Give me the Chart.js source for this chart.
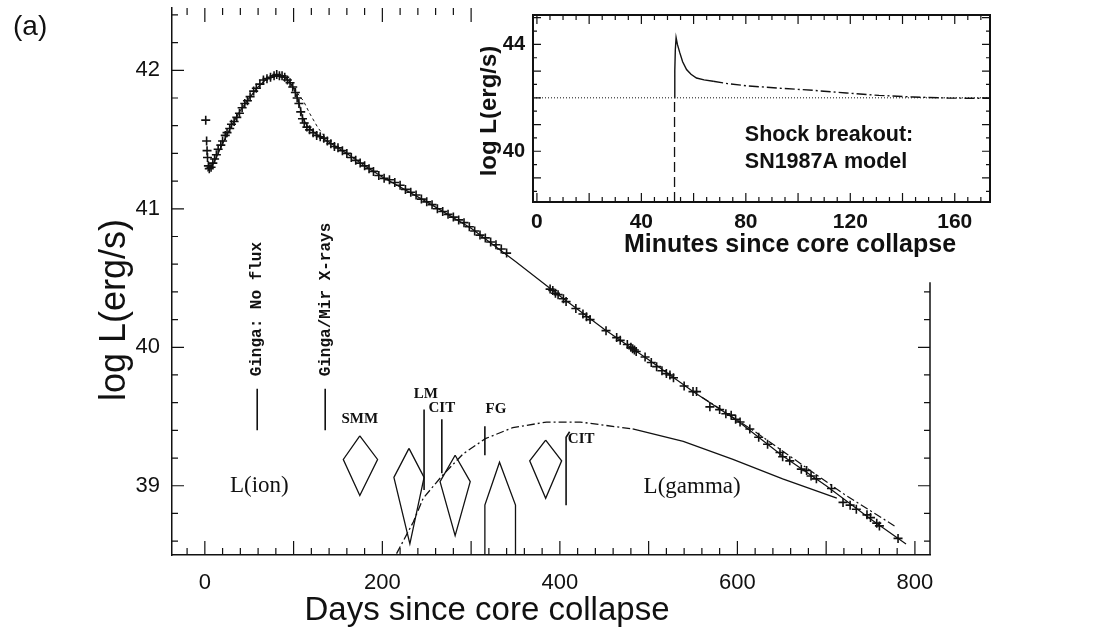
<!DOCTYPE html>
<html>
<head>
<meta charset="utf-8">
<script src="https://cdn.jsdelivr.net/npm/chart.js@4.4.1/dist/chart.umd.min.js"></script>
<style>
  html, body { margin: 0; padding: 0; background: #fff; }
  #wrap { position: relative; width: 1114px; height: 637px; }
  #main { position: absolute; left: 0; top: 0; }
  #inset { position: absolute; left: 480px; top: 0; }
</style>
</head>
<body>
<div id="wrap">
  <canvas id="main" width="1114" height="637"></canvas>
  <canvas id="inset" width="634" height="262"></canvas>
</div>
<script>
// ---------- main panel data (days since collapse, log L) ----------
const dayTicks = [0, 200, 400, 600, 800];
const logTicks = [39, 40, 41, 42];

const observed = [
  [1, 41.64], [2, 41.49], [2.5, 41.42], [3, 41.37], [4, 41.31], [5, 41.29], [7, 41.30], [9, 41.33],
  [11, 41.36], [13, 41.39], [15, 41.43], [18, 41.46], [20, 41.49], [23, 41.53], [25, 41.55], [28, 41.58],
  [30, 41.61], [33, 41.63], [36, 41.66], [39, 41.69], [42, 41.73], [45, 41.76], [48, 41.78], [51, 41.81],
  [55, 41.85], [58, 41.87], [62, 41.90], [66, 41.93], [70, 41.94], [74, 41.95], [78, 41.96], [81, 41.97],
  [84, 41.96], [87, 41.96], [90, 41.95], [93, 41.93], [96, 41.91], [99, 41.88], [102, 41.84], [104, 41.80],
  [106, 41.76], [108, 41.70], [110, 41.65], [112, 41.62], [115, 41.59], [118, 41.57], [122, 41.55], [126, 41.53],
  [130, 41.52], [134, 41.51], [138, 41.49], [142, 41.47], [146, 41.45], [150, 41.44], [155, 41.42], [160, 41.40],
  [165, 41.37], [170, 41.35], [175, 41.33], [180, 41.31], [185, 41.29], [190, 41.27], [196, 41.24], [202, 41.22],
  [208, 41.21], [214, 41.19], [220, 41.17], [226, 41.14], [232, 41.12], [238, 41.10], [244, 41.07], [250, 41.05],
  [256, 41.03], [262, 41.00], [268, 40.98], [274, 40.96], [280, 40.94], [286, 40.92], [292, 40.90], [298, 40.87],
  [304, 40.84], [310, 40.81], [316, 40.79], [322, 40.76], [328, 40.74], [334, 40.71], [340, 40.68],
  [389, 40.42], [392, 40.41], [395, 40.39], [398, 40.38], [404, 40.35], [407, 40.33], [418, 40.28], [426, 40.24],
  [430, 40.22], [434, 40.20], [452, 40.12], [464, 40.07], [468, 40.05], [476, 40.02], [480, 40.00], [482, 39.99],
  [484, 39.98], [486, 39.97], [496, 39.93], [503, 39.89], [509, 39.86], [515, 39.83], [520, 39.81], [524, 39.80],
  [528, 39.78], [540, 39.72], [550, 39.68], [554, 39.68], [569, 39.57], [580, 39.55], [587, 39.52], [593, 39.51],
  [598, 39.48], [603, 39.46], [614, 39.41], [624, 39.35], [634, 39.30], [648, 39.24], [651, 39.21], [659, 39.18],
  [672, 39.12], [678, 39.11], [683, 39.07], [689, 39.05], [706, 38.98], [719, 38.88], [727, 38.86], [734, 38.83],
  [746, 38.79], [750, 38.77], [757, 38.73], [760, 38.71], [781, 38.62]
];

const modelSolid = [
  [3, 41.27], [10, 41.33], [20, 41.47], [30, 41.60], [40, 41.71], [50, 41.80], [60, 41.88], [70, 41.94],
  [80, 41.96], [88, 41.96], [95, 41.92], [100, 41.87], [105, 41.79], [110, 41.66], [115, 41.60], [125, 41.54],
  [140, 41.48], [160, 41.40], [180, 41.31], [200, 41.23], [250, 41.05], [300, 40.86], [350, 40.62], [400, 40.37],
  [450, 40.13], [500, 39.91], [550, 39.68], [600, 39.47], [650, 39.22], [700, 39.00], [750, 38.76], [790, 38.58]
];

const modelDashedPeak = [[92, 41.94], [100, 41.88], [106, 41.82], [111, 41.78], [118, 41.69], [127, 41.59], [135, 41.52]];
const modelDashedLate = [[560, 39.64], [620, 39.39], [680, 39.12], [720, 38.94], [777, 38.71]];

const gammaLum = [
  [216, 38.51], [235, 38.74], [246, 38.91], [267, 39.07], [291, 39.23], [316, 39.34], [347, 39.42], [385, 39.46],
  [423, 39.46], [482, 39.41], [539, 39.32], [595, 39.19], [651, 39.05], [712, 38.91]
];

// instrument limits drawn as diamonds / boxes / bars
const smmDiamond = [[174.6, 39.36], [194.6, 39.19], [174.6, 38.93], [156, 39.19], [174.6, 39.36]];
const kiteA = [[230, 39.27], [247, 39.06], [231, 38.58], [213, 39.06], [230, 39.27]];
const kiteB = [[282, 39.22], [299, 39.03], [282, 38.64], [265, 39.03], [282, 39.22]];
const fgBox = [[315.5, 38.5], [315.5, 38.86], [332, 39.17], [350, 38.86], [350, 38.5]];
const diamondC = [[384, 39.33], [402, 39.18], [384, 38.91], [366, 39.18], [384, 39.33]];
const gingaBar1 = [[59, 39.70], [59, 39.40]];
const gingaBar2 = [[135.6, 39.70], [135.6, 39.40]];
const lmBar = [[247, 39.55], [247, 38.97]];
const citBar1 = [[267, 39.48], [267, 39.09]];
const fgBar = [[315.5, 39.43], [315.5, 39.22]];
const citBar2 = [[411, 39.39], [407, 39.35], [407, 38.86]];

const mainLabels = [
  { text: 'Ginga: No flux', x: 59, y: 39.79, rot: true, font: 'bold 16px "Liberation Mono", monospace' },
  { text: 'Ginga/Mir X-rays', x: 136, y: 39.79, rot: true, font: 'bold 16px "Liberation Mono", monospace' },
  { text: 'SMM', x: 174.6, y: 39.48, font: 'bold 15px "Liberation Serif", serif' },
  { text: 'LM', x: 249, y: 39.66, font: 'bold 15px "Liberation Serif", serif' },
  { text: 'CIT', x: 267, y: 39.56, font: 'bold 15px "Liberation Serif", serif' },
  { text: 'FG', x: 328, y: 39.55, font: 'bold 15px "Liberation Serif", serif' },
  { text: 'CIT', x: 424, y: 39.34, font: 'bold 15px "Liberation Serif", serif' },
  { text: 'L(ion)', x: 61.4, y: 39.0, font: '23px "Liberation Serif", serif' },
  { text: 'L(gamma)', x: 549, y: 38.99, font: '23px "Liberation Serif", serif' }
];
const rightAxisTop = 40.47;   // right frame is hidden behind the inset above this level

// ---------- inset data (minutes since collapse, log L) ----------
const minuteTicks = [0, 40, 80, 120, 160];
const insetLogTicks = [40, 44];
const breakoutCurve = [
  [52.7, 42.0], [52.8, 43.0], [53.0, 43.8], [53.3, 44.25], [53.8, 44.0], [54.7, 43.69], [55.8, 43.35],
  [57.3, 43.06], [59, 42.88], [61.1, 42.74], [64, 42.67], [67.5, 42.62], [73, 42.53], [80.3, 42.45],
  [93, 42.36], [105.7, 42.28], [118.5, 42.18], [131, 42.09], [144, 42.03], [158, 41.99], [173.4, 41.98]
];
const breakoutDrop = [[52.7, 38.1], [52.7, 42.0]];
const baseLevel = [[-1.5, 42.0], [173.5, 42.0]];

const pts = arr => arr.map(p => ({ x: p[0], y: p[1] }));
const lineSet = (arr, extra) => Object.assign({
  data: pts(arr), showLine: true, pointRadius: 0, borderColor: '#111', borderWidth: 1.3, fill: false, tension: 0
}, extra || {});
const noPadX = (s, h) => { s.height = h; s.paddingLeft = 0; s.paddingRight = 0; };
const noPadY = (s, w) => { s.width = w; s.paddingTop = 0; s.paddingBottom = 0; };

// inward tick marks on every side of a panel
function drawInwardTicks(ctx, chart, xList, yList, sides, rightFrom) {
  const a = chart.chartArea, xs = chart.scales.x, ys = chart.scales.y;
  const rightTop = rightFrom === undefined ? a.top : ys.getPixelForValue(rightFrom);
  ctx.save();
  ctx.strokeStyle = '#111';
  ctx.lineWidth = 1.2;
  ctx.beginPath();
  xList.forEach(t => {
    const px = xs.getPixelForValue(t.v);
    if (px < a.left || px > a.right) return;
    if (sides.bottom) { ctx.moveTo(px, a.bottom); ctx.lineTo(px, a.bottom - t.len); }
    if (sides.top) { ctx.moveTo(px, a.top); ctx.lineTo(px, a.top + t.len); }
  });
  yList.forEach(t => {
    const py = ys.getPixelForValue(t.v);
    if (py < a.top || py > a.bottom) return;
    if (sides.left) { ctx.moveTo(a.left, py); ctx.lineTo(a.left + t.len, py); }
    if (sides.right && py >= rightTop) { ctx.moveTo(a.right, py); ctx.lineTo(a.right - t.len, py); }
  });
  ctx.stroke();
  ctx.restore();
}

const mainXMarks = [];
for (let d = -20; d <= 800; d += 20) mainXMarks.push({ v: d, len: d % 100 === 0 ? 14 : 7 });
const mainYMarks = [];
for (let i = 193; i <= 212; i++) mainYMarks.push({ v: i / 5, len: i % 5 === 0 ? 12 : 6 });

const mainDecor = {
  id: 'mainDecor',
  afterDatasetsDraw(chart) {
    const ctx = chart.ctx, a = chart.chartArea, xs = chart.scales.x, ys = chart.scales.y;
    drawInwardTicks(ctx, chart, mainXMarks, mainYMarks, { bottom: true, top: true, left: true, right: true }, rightAxisTop);
    ctx.save();
    ctx.strokeStyle = '#111';
    ctx.lineWidth = 1.5;
    ctx.beginPath();
    ctx.moveTo(a.right, ys.getPixelForValue(rightAxisTop)); ctx.lineTo(a.right, a.bottom);
    ctx.stroke();
    ctx.fillStyle = '#111';
    mainLabels.forEach(l => {
      ctx.font = l.font;
      const px = xs.getPixelForValue(l.x), py = ys.getPixelForValue(l.y);
      if (l.rot) {
        ctx.save();
        ctx.translate(px, py);
        ctx.rotate(-Math.PI / 2);
        ctx.textAlign = 'left';
        ctx.textBaseline = 'middle';
        ctx.fillText(l.text, 0, 0);
        ctx.restore();
      } else {
        ctx.textAlign = 'center';
        ctx.textBaseline = 'middle';
        ctx.fillText(l.text, px, py);
      }
    });
    // axis titles and panel tag
    ctx.font = '33px "Liberation Sans", Arial, sans-serif';
    ctx.textAlign = 'center';
    ctx.textBaseline = 'middle';
    ctx.fillText('Days since core collapse', 487, 611);
    ctx.save();
    ctx.translate(115, 310);
    ctx.rotate(-Math.PI / 2);
    ctx.font = '36px "Liberation Sans", Arial, sans-serif';
    ctx.fillText('log L(erg/s)', 0, 0);
    ctx.restore();
    ctx.font = '28px "Liberation Sans", Arial, sans-serif';
    ctx.textAlign = 'left';
    ctx.fillText('(a)', 13, 27);
    ctx.restore();
  }
};

new Chart(document.getElementById('main'), {
  type: 'scatter',
  data: {
    datasets: [
      { data: pts(observed), pointStyle: 'cross', pointRadius: 4.5, borderColor: '#111', borderWidth: 1.6, showLine: false },
      lineSet(modelSolid, { borderWidth: 1.2 }),
      lineSet(modelDashedPeak, { borderWidth: 1, borderDash: [3, 3] }),
      lineSet(modelDashedLate, { borderWidth: 1.2, borderDash: [8, 3, 2, 3] }),
      lineSet(gammaLum, { borderWidth: 1.3, segment: { borderDash: c => c.p0.parsed.x < 430 ? [8, 3, 2, 3] : [] } }),
      lineSet(smmDiamond), lineSet(kiteA), lineSet(kiteB), lineSet(fgBox), lineSet(diamondC),
      lineSet(gingaBar1, { borderWidth: 1.6 }), lineSet(gingaBar2, { borderWidth: 1.6 }),
      lineSet(lmBar, { borderWidth: 1.6 }), lineSet(citBar1, { borderWidth: 1.6 }),
      lineSet(fgBar, { borderWidth: 1.6 }), lineSet(citBar2, { borderWidth: 1.6 })
    ]
  },
  options: {
    responsive: false,
    animation: false,
    layout: { padding: { left: 0, right: 184, top: 8, bottom: 0 } },
    plugins: { legend: { display: false }, tooltip: { enabled: false } },
    scales: {
      x: {
        type: 'linear', min: -37, max: 817,
        afterBuildTicks: s => { s.ticks = dayTicks.map(v => ({ value: v })); },
        afterFit: s => noPadX(s, 82),
        grid: { display: false, drawTicks: false },
        border: { display: true, color: '#111', width: 1.5 },
        ticks: { color: '#111', font: { family: '"Liberation Sans", Arial, sans-serif', size: 22 }, padding: 15, maxRotation: 0, autoSkip: false }
      },
      y: {
        type: 'linear', min: 38.5, max: 42.45,
        afterBuildTicks: s => { s.ticks = logTicks.map(v => ({ value: v })); },
        afterFit: s => noPadY(s, 172),
        grid: { display: false, drawTicks: false },
        border: { display: true, color: '#111', width: 1.5 },
        ticks: { color: '#111', font: { family: '"Liberation Sans", Arial, sans-serif', size: 22 }, padding: 12 }
      }
    }
  },
  plugins: [mainDecor]
});

// ---------- inset panel ----------
const insetXMarks = [];
for (let m = 0; m <= 170; m += 5) insetXMarks.push({ v: m, len: m % 20 === 0 ? 9 : 5 });
const insetYMarks = [];
for (let i = 77; i <= 90; i++) insetYMarks.push({ v: i / 2, len: i % 2 === 0 ? 8 : 4 });

const insetDecor = {
  id: 'insetDecor',
  beforeDraw(chart) {
    const ctx = chart.ctx, a = chart.chartArea;
    ctx.save();
    ctx.fillStyle = '#fff';
    ctx.fillRect(a.left - 50, 0, a.right - a.left + 55, a.bottom + 3);
    ctx.fillRect(a.left - 8, a.bottom, a.right - a.left + 13, chart.height - a.bottom);
    ctx.restore();
  },
  afterDatasetsDraw(chart) {
    const ctx = chart.ctx, a = chart.chartArea, xs = chart.scales.x, ys = chart.scales.y;
    drawInwardTicks(ctx, chart, insetXMarks, insetYMarks, { bottom: true, top: true, left: true, right: true });
    ctx.save();
    ctx.strokeStyle = '#111';
    ctx.lineWidth = 2;
    ctx.strokeRect(a.left, a.top, a.right - a.left, a.bottom - a.top);
    ctx.fillStyle = '#111';
    ctx.textAlign = 'left';
    ctx.textBaseline = 'middle';
    ctx.font = 'bold 21.5px "Liberation Sans", Arial, sans-serif';
    ctx.fillText('Shock breakout:', xs.getPixelForValue(79.6), ys.getPixelForValue(40.6));
    ctx.fillText('SN1987A model', xs.getPixelForValue(79.6), ys.getPixelForValue(39.58));
    ctx.textAlign = 'center';
    ctx.font = 'bold 25px "Liberation Sans", Arial, sans-serif';
    ctx.fillText('Minutes since core collapse', 310, 245);
    ctx.save();
    ctx.translate(9, 111);
    ctx.rotate(-Math.PI / 2);
    ctx.font = 'bold 24px "Liberation Sans", Arial, sans-serif';
    ctx.fillText('log L(erg/s)', 0, 0);
    ctx.restore();
    ctx.restore();
  }
};

new Chart(document.getElementById('inset'), {
  type: 'scatter',
  data: {
    datasets: [
      lineSet(baseLevel, { borderWidth: 1, borderDash: [1, 2] }),
      lineSet(breakoutDrop, { borderWidth: 1.3, borderDash: [10, 5] }),
      lineSet(breakoutCurve, { borderWidth: 1.4, segment: { borderDash: c => c.p0.parsed.x > 64 ? [10, 3, 2, 3] : [] } })
    ]
  },
  options: {
    responsive: false,
    animation: false,
    layout: { padding: { left: 0, right: 124, top: 15, bottom: 0 } },
    plugins: { legend: { display: false }, tooltip: { enabled: false } },
    scales: {
      x: {
        type: 'linear', min: -1.5, max: 173.5,
        afterBuildTicks: s => { s.ticks = minuteTicks.map(v => ({ value: v })); },
        afterFit: s => noPadX(s, 60),
        grid: { display: false, drawTicks: false },
        border: { display: false },
        ticks: { color: '#111', font: { family: '"Liberation Sans", Arial, sans-serif', size: 21, weight: 'bold' }, padding: 8, maxRotation: 0, autoSkip: false }
      },
      y: {
        type: 'linear', min: 38.1, max: 45.1,
        afterBuildTicks: s => { s.ticks = insetLogTicks.map(v => ({ value: v })); },
        afterFit: s => noPadY(s, 53),
        grid: { display: false, drawTicks: false },
        border: { display: false },
        ticks: { color: '#111', font: { family: '"Liberation Sans", Arial, sans-serif', size: 20, weight: 'bold' }, padding: 8 }
      }
    }
  },
  plugins: [insetDecor]
});
</script>
</body>
</html>
